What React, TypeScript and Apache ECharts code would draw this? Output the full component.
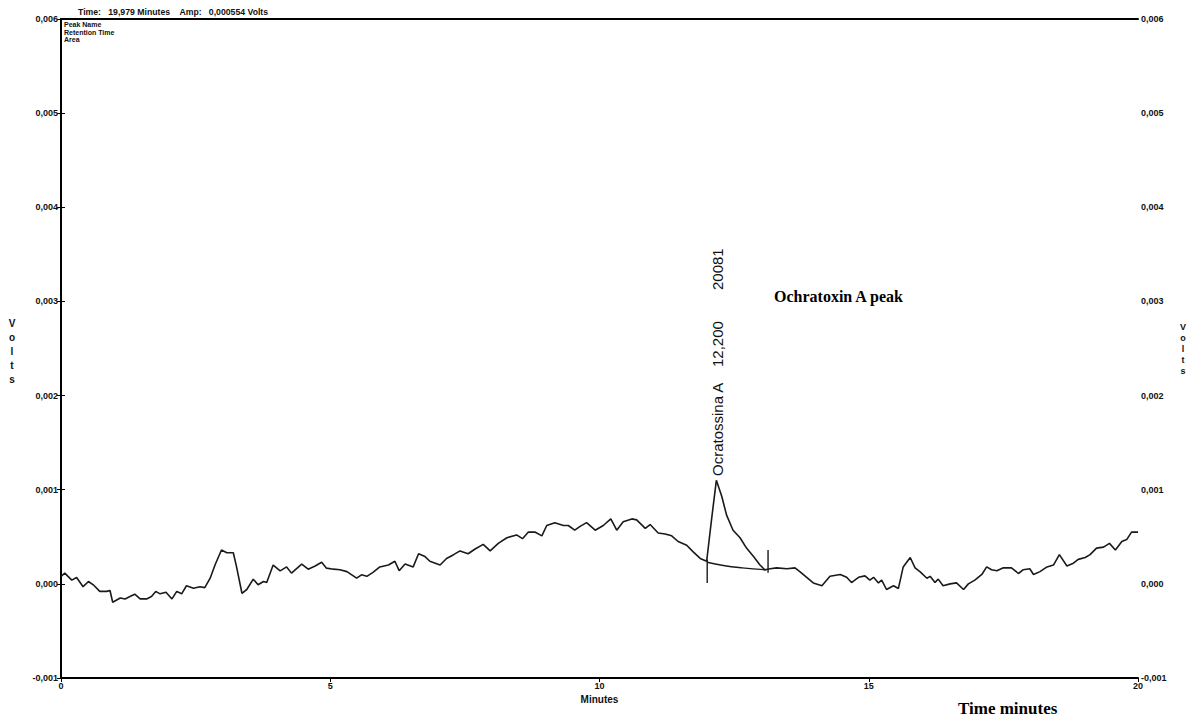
import React, { useEffect, useRef } from "react";
import * as echarts from "echarts";

// Chromatogram trace (time in minutes, signal in volts)
const timeMin = [
  0.0, 0.07, 0.2, 0.29, 0.41, 0.51, 0.6, 0.72, 0.85, 0.91, 0.96, 1.1, 1.19, 1.28, 1.37, 1.47, 1.59, 1.68, 1.76, 1.84,
  1.95, 2.06, 2.15, 2.24, 2.33, 2.46, 2.58, 2.67, 2.77, 2.86, 2.98, 3.08, 3.2, 3.26, 3.36, 3.45, 3.57, 3.66, 3.76, 3.82,
  3.94, 4.07, 4.19, 4.28, 4.47, 4.59, 4.72, 4.84, 4.93, 5.06, 5.18, 5.31, 5.49, 5.58, 5.68, 5.8, 5.92, 6.08, 6.2, 6.28,
  6.39, 6.54, 6.64, 6.76, 6.85, 7.04, 7.16, 7.29, 7.41, 7.56, 7.69, 7.84, 7.97, 8.12, 8.28, 8.46, 8.57, 8.68, 8.8, 8.93,
  9.02, 9.17, 9.33, 9.42, 9.54, 9.64, 9.76, 9.92, 10.07, 10.21, 10.32, 10.44, 10.6, 10.69, 10.85, 10.94, 11.09, 11.22, 11.34, 11.46,
  11.62, 11.74, 11.87, 11.99, 12.08, 12.17, 12.27, 12.36, 12.48, 12.61, 12.73, 12.86, 12.98, 13.07, 13.17, 13.29, 13.48, 13.63, 13.72, 13.97,
  14.13, 14.28, 14.47, 14.59, 14.68, 14.81, 14.93, 15.02, 15.09, 15.18, 15.24, 15.33, 15.46, 15.55, 15.64, 15.77, 15.86, 15.95, 16.08, 16.14,
  16.23, 16.29, 16.38, 16.51, 16.63, 16.76, 16.85, 16.97, 17.1, 17.19, 17.28, 17.38, 17.5, 17.65, 17.78, 17.87, 17.99, 18.06, 18.18, 18.31,
  18.43, 18.54, 18.68, 18.8, 18.89, 19.02, 19.11, 19.23, 19.36, 19.47, 19.58, 19.7, 19.79, 19.88, 20.0,
];
const signalV = [
  0.000078, 0.000114, 0.00004, 0.000067, -0.00003, 0.000025, -0.00001, -0.00008, -0.00008, -0.00007, -0.000195, -0.00015, -0.00016, -0.000135, -0.00011, -0.00016, -0.00016, -0.000135, -0.00008, -0.000106,
  -0.00009, -0.00016, -0.00008, -0.000106, -0.00002, -0.000046, -0.00003, -0.00004, 0.00006, 0.0002, 0.00036, 0.00033, 0.00033, 0.00018, -0.0001, -0.00006, 0.00005, -0.00001, 0.000025, 0.000014,
  0.0002, 0.000138, 0.00018, 0.000114, 0.00021, 0.000156, 0.00019, 0.00023, 0.000167, 0.000156, 0.00015, 0.00013, 0.00006, 0.000096, 0.00008, 0.000124, 0.00018, 0.0002, 0.00024, 0.00014,
  0.00021, 0.00018, 0.00032, 0.00029, 0.00024, 0.0002, 0.00027, 0.00031, 0.00035, 0.00032, 0.00037, 0.00042, 0.00035, 0.00043, 0.00049, 0.00052, 0.00048, 0.00055, 0.00055, 0.00051,
  0.00062, 0.00065, 0.00062, 0.00062, 0.00057, 0.00061, 0.00065, 0.00057, 0.00062, 0.00069, 0.00057, 0.00066, 0.00069, 0.00068, 0.00059, 0.00063, 0.00054, 0.00053, 0.00051, 0.00045,
  0.00041, 0.00034, 0.00027, 0.00024, 0.00068, 0.0011, 0.00093, 0.00073, 0.00057, 0.00049, 0.00038, 0.00029, 0.0002, 0.00015, 0.00016, 0.00017, 0.00016, 0.00017, 0.00013, 0.00001,
  -0.00002, 0.00008, 0.0001, 0.00007, 0.000014, 0.00007, 0.000085, 0.00004, 0.00007, 0.00001, 0.00004, -0.00006, -0.00002, -0.00005, 0.00018, 0.00028, 0.00017, 0.00013, 0.00006, 0.00008,
  0.000014, 0.00005, -0.00002, 0.0, 0.00001, -0.00006, 0.0, 0.00004, 0.0001, 0.00018, 0.00015, 0.00014, 0.00017, 0.00017, 0.00011, 0.00015, 0.00016, 0.0001, 0.00013, 0.00018,
  0.0002, 0.00031, 0.00019, 0.00022, 0.00026, 0.00028, 0.00031, 0.00038, 0.00039, 0.00043, 0.00036, 0.00045, 0.00047, 0.00055, 0.00055,
];

// Integration baseline under the ochratoxin A peak
const baselineTime = [12.0, 12.3, 12.65, 13.1];
const baselineV = [0.00023, 0.000195, 0.00017, 0.00015];

// Peak start / end markers
const startMarkTime = [12.0, 12.0];
const startMarkV = [0.00026, 0.00001];
const endMarkTime = [13.13, 13.13];
const endMarkV = [0.00036, 0.000117];

const yTicksMin = -0.001;
const yTicksMax = 0.006;
const yInterval = 0.001;
const xMin = 0;
const xMax = 20;
const xInterval = 5;

const zip = (a: number[], b: number[]) => a.map((t, i) => [t, b[i]]);
const fmtY = (v: number) => v.toFixed(3).replace(".", ",");

export default function App() {
  const ref = useRef<HTMLDivElement>(null);

  useEffect(() => {
    document.body.style.margin = "0";
    const chart = echarts.init(ref.current!, undefined, { renderer: "svg" });
    const axisLabelStyle = {
      color: "#111",
      fontSize: 9,
      fontWeight: "bold" as const,
      fontFamily: "Liberation Sans",
    };
    const yAxisBase = {
      type: "value" as const,
      min: yTicksMin,
      max: yTicksMax,
      interval: yInterval,
      axisLine: { show: true, lineStyle: { color: "#000", width: 2 } },
      axisTick: { show: true, length: 4, lineStyle: { color: "#000", width: 1 } },
      splitLine: { show: false },
    };
    const lineStyle = { color: "#1a1a1a", width: 1.6 };
    chart.setOption({
      animation: false,
      backgroundColor: "#fff",
      grid: { left: 61, right: 49, top: 19, bottom: 40 },
      xAxis: [
        {
          type: "value",
          min: xMin,
          max: xMax,
          interval: xInterval,
          position: "bottom",
          name: "Minutes",
          nameLocation: "middle",
          nameGap: 15,
          nameTextStyle: { ...axisLabelStyle, fontSize: 10 },
          axisLine: { show: true, onZero: false, lineStyle: { color: "#000", width: 2 } },
          axisTick: { show: true, length: 4, lineStyle: { color: "#000", width: 1 } },
          axisLabel: { ...axisLabelStyle, margin: 3 },
          splitLine: { show: false },
        },
        {
          type: "value",
          min: xMin,
          max: xMax,
          position: "top",
          axisLine: { show: true, onZero: false, lineStyle: { color: "#000", width: 2 } },
          axisTick: { show: false },
          axisLabel: { show: false },
          splitLine: { show: false },
        },
      ],
      yAxis: [
        {
          ...yAxisBase,
          position: "left",
          axisLabel: { ...axisLabelStyle, margin: 3, formatter: fmtY },
        },
        {
          ...yAxisBase,
          position: "right",
          axisLabel: { ...axisLabelStyle, margin: 3, formatter: fmtY },
        },
      ],
      series: [
        {
          type: "line",
          data: zip(timeMin, signalV),
          showSymbol: false,
          lineStyle,
          silent: true,
        },
        {
          type: "line",
          data: zip(baselineTime, baselineV),
          showSymbol: false,
          smooth: true,
          lineStyle: { color: "#1a1a1a", width: 1.4 },
          silent: true,
        },
        {
          type: "line",
          data: zip(startMarkTime, startMarkV),
          showSymbol: false,
          lineStyle: { color: "#1a1a1a", width: 1.4 },
          silent: true,
        },
        {
          type: "line",
          data: zip(endMarkTime, endMarkV),
          showSymbol: false,
          lineStyle: { color: "#1a1a1a", width: 1.4 },
          silent: true,
        },
      ],
      graphic: [
        {
          type: "text",
          left: 78,
          top: 7,
          style: {
            text: "Time:   19,979 Minutes    Amp:   0,000554 Volts",
            font: 'bold 8.7px "Liberation Sans"',
            fill: "#111",
          },
        },
        {
          type: "text",
          left: 64,
          top: 21,
          style: {
            text: "Peak Name\nRetention Time\nArea",
            font: 'bold 7px "Liberation Sans"',
            lineHeight: 7.5,
            fill: "#111",
          },
        },
        {
          type: "text",
          x: 12,
          y: 316,
          style: {
            text: "V\no\nl\nt\ns",
            font: 'bold 10px "Liberation Sans"',
            lineHeight: 14,
            textAlign: "center",
            fill: "#111",
          },
        },
        {
          type: "text",
          x: 1183,
          y: 321,
          style: {
            text: "V\no\nl\nt\ns",
            font: 'bold 9px "Liberation Sans"',
            lineHeight: 11,
            textAlign: "center",
            fill: "#111",
          },
        },
        {
          type: "text",
          x: 717,
          y: 476,
          rotation: Math.PI / 2,
          style: {
            text: "Ocratossina A",
            font: '15px "Liberation Sans"',
            textAlign: "left",
            textVerticalAlign: "middle",
            fill: "#111",
          },
        },
        {
          type: "text",
          x: 717,
          y: 367,
          rotation: Math.PI / 2,
          style: {
            text: "12,200",
            font: '15px "Liberation Sans"',
            textAlign: "left",
            textVerticalAlign: "middle",
            fill: "#111",
          },
        },
        {
          type: "text",
          x: 717,
          y: 290,
          rotation: Math.PI / 2,
          style: {
            text: "20081",
            font: '15px "Liberation Sans"',
            textAlign: "left",
            textVerticalAlign: "middle",
            fill: "#111",
          },
        },
        {
          type: "text",
          x: 774,
          y: 296,
          style: {
            text: "Ochratoxin A peak",
            font: 'bold 16px "Liberation Serif"',
            textVerticalAlign: "middle",
            fill: "#000",
          },
        },
        {
          type: "text",
          x: 958,
          y: 708,
          style: {
            text: "Time minutes",
            font: 'bold 17px "Liberation Serif"',
            textVerticalAlign: "middle",
            fill: "#000",
          },
        },
      ],
    });
    return () => chart.dispose();
  }, []);

  return <div ref={ref} style={{ width: 1187, height: 718 }} />;
}
